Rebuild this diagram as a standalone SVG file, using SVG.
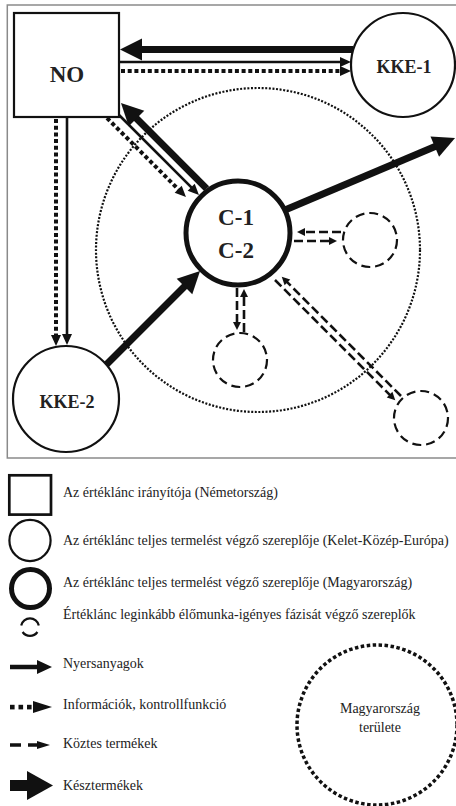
<svg xmlns="http://www.w3.org/2000/svg" width="456" height="806" viewBox="0 0 456 806">
<style>
  .frame{fill:none;stroke:#8a8a8a;stroke-width:1.5}
  .node{fill:#fff;stroke:#111;stroke-width:2.2}
  .nodeB{fill:#fff;stroke:#111;stroke-width:5}
  .dnode{fill:#fff;stroke:#111;stroke-width:2.2;stroke-dasharray:9 5}
  .lbl{font-weight:bold;fill:#222;text-anchor:middle}
  .thick{stroke:#111;stroke-width:7;fill:none}
  .thin{stroke:#111;stroke-width:2.6;fill:none}
  .dot{stroke:#111;stroke-width:4;stroke-dasharray:4 2.7;fill:none}
  .dash{stroke:#111;stroke-width:2.6;stroke-dasharray:9 4;fill:none}
  .region{fill:none;stroke:#111;stroke-width:2.2;stroke-dasharray:2 1.6}
  .leg{font-size:14px;fill:#222}
  .ink{fill:#111}
</style>
<defs>
  <marker id="mBig" markerUnits="userSpaceOnUse" markerWidth="24" markerHeight="24" refX="1" refY="11" orient="auto" overflow="visible">
    <path d="M0,0 L22,11 L0,22 z" fill="#111"/>
  </marker>
  <marker id="mSmall" markerUnits="userSpaceOnUse" markerWidth="12" markerHeight="12" refX="1" refY="5" orient="auto" overflow="visible">
    <path d="M0,0 L11,5 L0,10 z" fill="#111"/>
  </marker>
  <marker id="mDash" markerUnits="userSpaceOnUse" markerWidth="10" markerHeight="10" refX="1" refY="4" orient="auto" overflow="visible">
    <path d="M0,0 L8,4 L0,8 z" fill="#111"/>
  </marker>
</defs>

<rect class="frame" x="7.3" y="5" width="460" height="453"/>

<g id="region">
  <circle class="region" cx="258" cy="250" r="162"/>
</g>

<g id="connectors">
  <line class="thick" x1="353" y1="49.5" x2="141" y2="49.5" marker-end="url(#mBig)"/>
  <line class="thin" x1="119" y1="62" x2="341" y2="62" marker-end="url(#mSmall)"/>
  <line class="dot" x1="121" y1="71" x2="341" y2="71" marker-end="url(#mSmall)"/>
  <line class="dot" x1="56" y1="119" x2="56" y2="336" marker-end="url(#mSmall)"/>
  <line class="thin" x1="67" y1="117" x2="67" y2="335" marker-end="url(#mSmall)"/>
  <line class="thick" x1="206.6" y1="188.6" x2="135.8" y2="117.8" marker-end="url(#mBig)"/>
  <line class="thin" x1="119" y1="115" x2="191.9" y2="187.9" marker-end="url(#mSmall)"/>
  <line class="dot" x1="107" y1="118" x2="178.9" y2="189.9" marker-end="url(#mSmall)"/>
  <line class="thick" x1="104" y1="367" x2="185.2" y2="285.8" marker-end="url(#mBig)"/>
  <line class="thick" x1="285" y1="210" x2="435.7" y2="146.2" marker-end="url(#mBig)"/>
  <line class="dash" x1="341" y1="232" x2="304" y2="232" marker-end="url(#mDash)"/>
  <line class="dash" x1="294" y1="241" x2="330" y2="241" marker-end="url(#mDash)"/>
  <line class="dash" x1="237" y1="288" x2="237" y2="323" marker-end="url(#mDash)"/>
  <line class="dash" x1="244" y1="332" x2="244" y2="296" marker-end="url(#mDash)"/>
  <line class="dash" x1="275" y1="280" x2="390.3" y2="395.3" marker-end="url(#mDash)"/>
  <line class="dash" x1="401" y1="396" x2="286.7" y2="281.7" marker-end="url(#mDash)"/>
</g>

<g font-family="'Liberation Serif', Tinos, 'DejaVu Serif', 'Times New Roman', serif">
<g id="NO">
  <rect class="node" x="14" y="13" width="105" height="104"/>
  <text class="lbl" x="67" y="82" font-size="23">NO</text>
</g>
<g id="KKE-1">
  <circle class="node" cx="403" cy="65" r="52"/>
  <text class="lbl" x="404" y="73" font-size="18">KKE-1</text>
</g>
<g id="KKE-2">
  <circle class="node" cx="66" cy="399" r="53"/>
  <text class="lbl" x="67" y="408" font-size="18">KKE-2</text>
</g>
<g id="C">
  <circle class="nodeB" cx="238" cy="233" r="52"/>
  <text class="lbl" x="236" y="225" font-size="23">C-1</text>
  <text class="lbl" x="236" y="258" font-size="23">C-2</text>
</g>
<g id="S1">
  <circle class="dnode" cx="370" cy="240" r="27"/>
</g>
<g id="S2">
  <circle class="dnode" cx="240" cy="360" r="27"/>
</g>
<g id="S3">
  <circle class="dnode" cx="421" cy="418" r="27"/>
</g>

<g id="legend">
  <rect fill="#fff" stroke="#111" stroke-width="2.7" x="9.3" y="475.3" width="41.7" height="39.3"/>
  <text class="leg" x="63" y="497">Az értéklánc irányítója (Németország)</text>

  <circle fill="none" stroke="#111" stroke-width="2.2" cx="30" cy="540.5" r="20.6"/>
  <text class="leg" x="63" y="545">Az értéklánc teljes termelést végző szereplője (Kelet-Közép-Európa)</text>

  <circle fill="none" stroke="#111" stroke-width="5" cx="30.5" cy="588.5" r="19"/>
  <text class="leg" x="63" y="587">Az értéklánc teljes termelést végző szereplője (Magyarország)</text>

  <path d="M21.2,625.5 A9,9 0 0 1 38.8,625.5" fill="none" stroke="#111" stroke-width="2.2"/>
  <path d="M37.4,632 A9,9 0 0 1 22.6,632" fill="none" stroke="#111" stroke-width="2.2"/>
  <text class="leg" x="63" y="618.5">Értéklánc leginkább élőmunka-igényes fázisát végző szereplők</text>

  <line x1="10" y1="667" x2="38" y2="667" stroke="#111" stroke-width="4.5"/>
  <polygon class="ink" points="37,660 52,667 37,674"/>
  <text class="leg" x="63" y="667.5">Nyersanyagok</text>

  <rect class="ink" x="10" y="704.8" width="4.6" height="4.6"/>
  <rect class="ink" x="18.5" y="704.8" width="4.6" height="4.6"/>
  <rect class="ink" x="27" y="704.8" width="4.6" height="4.6"/>
  <polygon class="ink" points="33,701 52,707 33,713"/>
  <text class="leg" x="63" y="708.5">Információk, kontrollfunkció</text>

  <line x1="10" y1="745" x2="21" y2="745" stroke="#111" stroke-width="3.5"/>
  <line x1="28" y1="745" x2="39" y2="745" stroke="#111" stroke-width="3.5"/>
  <polygon class="ink" points="37,741 50,745 37,749"/>
  <text class="leg" x="63" y="747.5">Köztes termékek</text>

  <rect class="ink" x="10" y="780" width="18" height="11"/>
  <polygon class="ink" points="27,771 53,785.5 27,800"/>
  <text class="leg" x="63" y="789.5">Késztermékek</text>

  <circle fill="none" stroke="#111" stroke-width="3.5" stroke-dasharray="3.5 2.5" cx="377" cy="725" r="80"/>
  <text class="leg" x="380" y="713" text-anchor="middle">Magyarország</text>
  <text class="leg" x="380" y="732" text-anchor="middle">területe</text>
</g>
</g>
</svg>
